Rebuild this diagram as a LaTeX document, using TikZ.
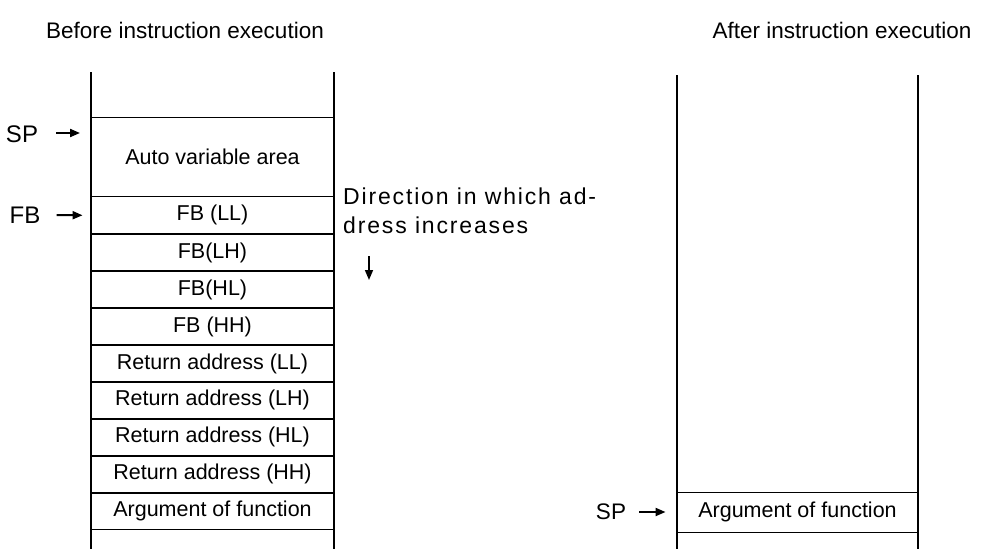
\documentclass[tikz,border=0pt]{standalone}
\usepackage{fontspec}
\setmainfont{Liberation Sans}
\newfontfamily\widefont[LetterSpace=8]{Liberation Sans}
\usetikzlibrary{arrows.meta, positioning}

\begin{document}
\begin{tikzpicture}[
  x=1pt, y=-1pt,
  cell/.style={rectangle, draw, line width=0.9pt, minimum width=243pt, minimum height=36pt, inner sep=0pt, font=\fontsize{21.5}{24}\selectfont},
  wall/.style={line width=1.8pt},
  ptr/.style={-{Triangle[length=10pt, width=8pt]}, line width=2pt},
  tag/.style={font=\fontsize{24}{27}\selectfont, inner sep=0pt},
  title/.style={font=\fontsize{22.5}{26}\selectfont, inner sep=0pt},
]
\useasboundingbox (0,0) rectangle (994,549);

% Titles
\node[title] (before) at (185,30) {Before instruction execution};
\node[title] (after) at (842,30) {After instruction execution};

% Stack before execution
\node[cell, minimum height=79pt] (auto) at (212.5,156.5) {Auto variable area};
\node[cell, minimum height=37pt, below=0pt of auto] (fbll) {FB (LL)};
\node[cell, below=0pt of fbll] (fblh) {FB(LH)};
\node[cell, below=0pt of fblh] (fbhl) {FB(HL)};
\node[cell, below=0pt of fbhl] (fbhh) {FB (HH)};
\node[cell, below=0pt of fbhh] (rall) {Return address (LL)};
\node[cell, below=0pt of rall] (ralh) {Return address (LH)};
\node[cell, below=0pt of ralh] (rahl) {Return address (HL)};
\node[cell, below=0pt of rahl] (rahh) {Return address (HH)};
\node[cell, below=0pt of rahh] (arg) {Argument of function};

% Stack after execution
\node[cell, minimum width=241pt, minimum height=40pt] (argafter) at (797.5,512) {Argument of function};

% Stack walls
\draw[wall] (91,72) -- (91,549);
\draw[wall] (334,72) -- (334,549);
\draw[wall] (677,75) -- (677,549);
\draw[wall] (918,75) -- (918,549);

% Pointers
\node[tag] (spbefore) at (22,134) {SP};
\coordinate (sptip) at (80,133);
\draw[ptr] (spbefore.east) ++(18,-1) -- (sptip);
\node[tag] (fb) at (25,215) {FB};
\draw[ptr, shorten >=8pt] (fb.east) ++(16,0) -- (fbll.west);
\node[tag, font=\fontsize{22.5}{26}\selectfont] (spafter) at (611,512) {SP};
\draw[ptr, shorten >=11pt] (spafter.east) ++(13,0) -- (argafter.west);

% Direction note
\node[font=\fontsize{23}{29}\selectfont\widefont, align=left, anchor=north west, inner sep=0pt] (dir) at (343,188) {Direction in which ad-\\dress increases};
\coordinate (dirtop) at (369,256);
\coordinate (dirbot) at (369,280);
\draw[ptr, line width=1.5pt] (dirtop) -- (dirbot);

\end{tikzpicture}
\end{document}
